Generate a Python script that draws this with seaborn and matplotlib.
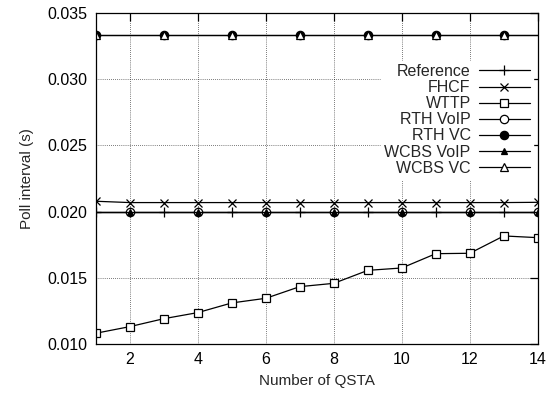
import numpy as np
import pandas as pd
import matplotlib
matplotlib.use("Agg")
import matplotlib.pyplot as plt
import seaborn as sns

# data
qsta = [1, 2, 3, 4, 5, 6, 7, 8, 9, 10, 11, 12, 13, 14]
reference = [0.020] * 14
fhcf = [0.02078, 0.02068, 0.02068, 0.02068, 0.02068, 0.02068, 0.02068,
        0.02068, 0.02068, 0.02068, 0.02068, 0.02068, 0.02068, 0.02070]
wttp = [0.01081, 0.01131, 0.01191, 0.01237, 0.01310, 0.01345, 0.01433,
        0.01458, 0.01556, 0.01574, 0.01682, 0.01685, 0.01816, 0.01803]
rth_voip = [0.020] * 14
rth_vc = [0.03333] * 14
wcbs_voip = [0.020] * 14
wcbs_vc = [0.03333] * 14

series = [
    ("Reference", reference, dict(marker="+", markersize=7, markevery=1)),
    ("FHCF", fhcf, dict(marker="x", markersize=6, markevery=1)),
    ("WTTP", wttp, dict(marker="s", markersize=6, markerfacecolor="white", markevery=1)),
    ("RTH VoIP", rth_voip, dict(marker="o", markersize=6, markerfacecolor="white", markevery=(1, 2))),
    ("RTH VC", rth_vc, dict(marker="o", markersize=6, markevery=(0, 2))),
    ("WCBS VoIP", wcbs_voip, dict(marker="^", markersize=5, markevery=(1, 2))),
    ("WCBS VC", wcbs_vc, dict(marker="^", markersize=6, markerfacecolor="white", markevery=(0, 2))),
]

sns.set_style("white")
plt.rcParams['font.family'] = ['Liberation Sans', 'DejaVu Sans']

fig = plt.figure(figsize=(5.51, 3.94), dpi=100)
ax = fig.add_axes([0.174, 0.127, 0.802, 0.840])

for name, vals, style in series:
    df = pd.DataFrame({"x": qsta, "y": vals})
    sns.lineplot(data=df, x="x", y="y", ax=ax, color="black", linewidth=0.9,
                 markeredgecolor="black", markeredgewidth=0.9, label=name, **style)

ax.set_xlim(1, 14)
ax.set_ylim(0.010, 0.035)
ax.set_xticks([2, 4, 6, 8, 10, 12, 14])
ax.set_yticks([0.010, 0.015, 0.020, 0.025, 0.030, 0.035])
ax.yaxis.set_major_formatter(matplotlib.ticker.FormatStrFormatter("%.3f"))
ax.grid(True, color="black", linestyle=(0, (1, 2)), linewidth=0.5)
ax.tick_params(direction="in", length=6, width=0.9, top=True, right=True,
               labelsize=11.5, pad=6, colors="black")
for s in ax.spines.values():
    s.set_color("black")
    s.set_linewidth(0.9)

ax.set_xlabel("Number of QSTA", fontsize=11, labelpad=5)
ax.set_ylabel("Poll interval (s)", fontsize=11, labelpad=10)

leg = ax.legend(loc="upper right", bbox_to_anchor=(1.0, 0.87), markerfirst=False,
                frameon=True, framealpha=1, edgecolor="white", fancybox=False,
                fontsize=11.5, handlelength=3.2, labelspacing=0.07,
                borderpad=0.2, handletextpad=0.5, borderaxespad=0.3)
for t in leg.get_texts():
    t.set_ha("right")
leg._legend_box.align = "right"

fig.savefig("out.png", dpi=100)
